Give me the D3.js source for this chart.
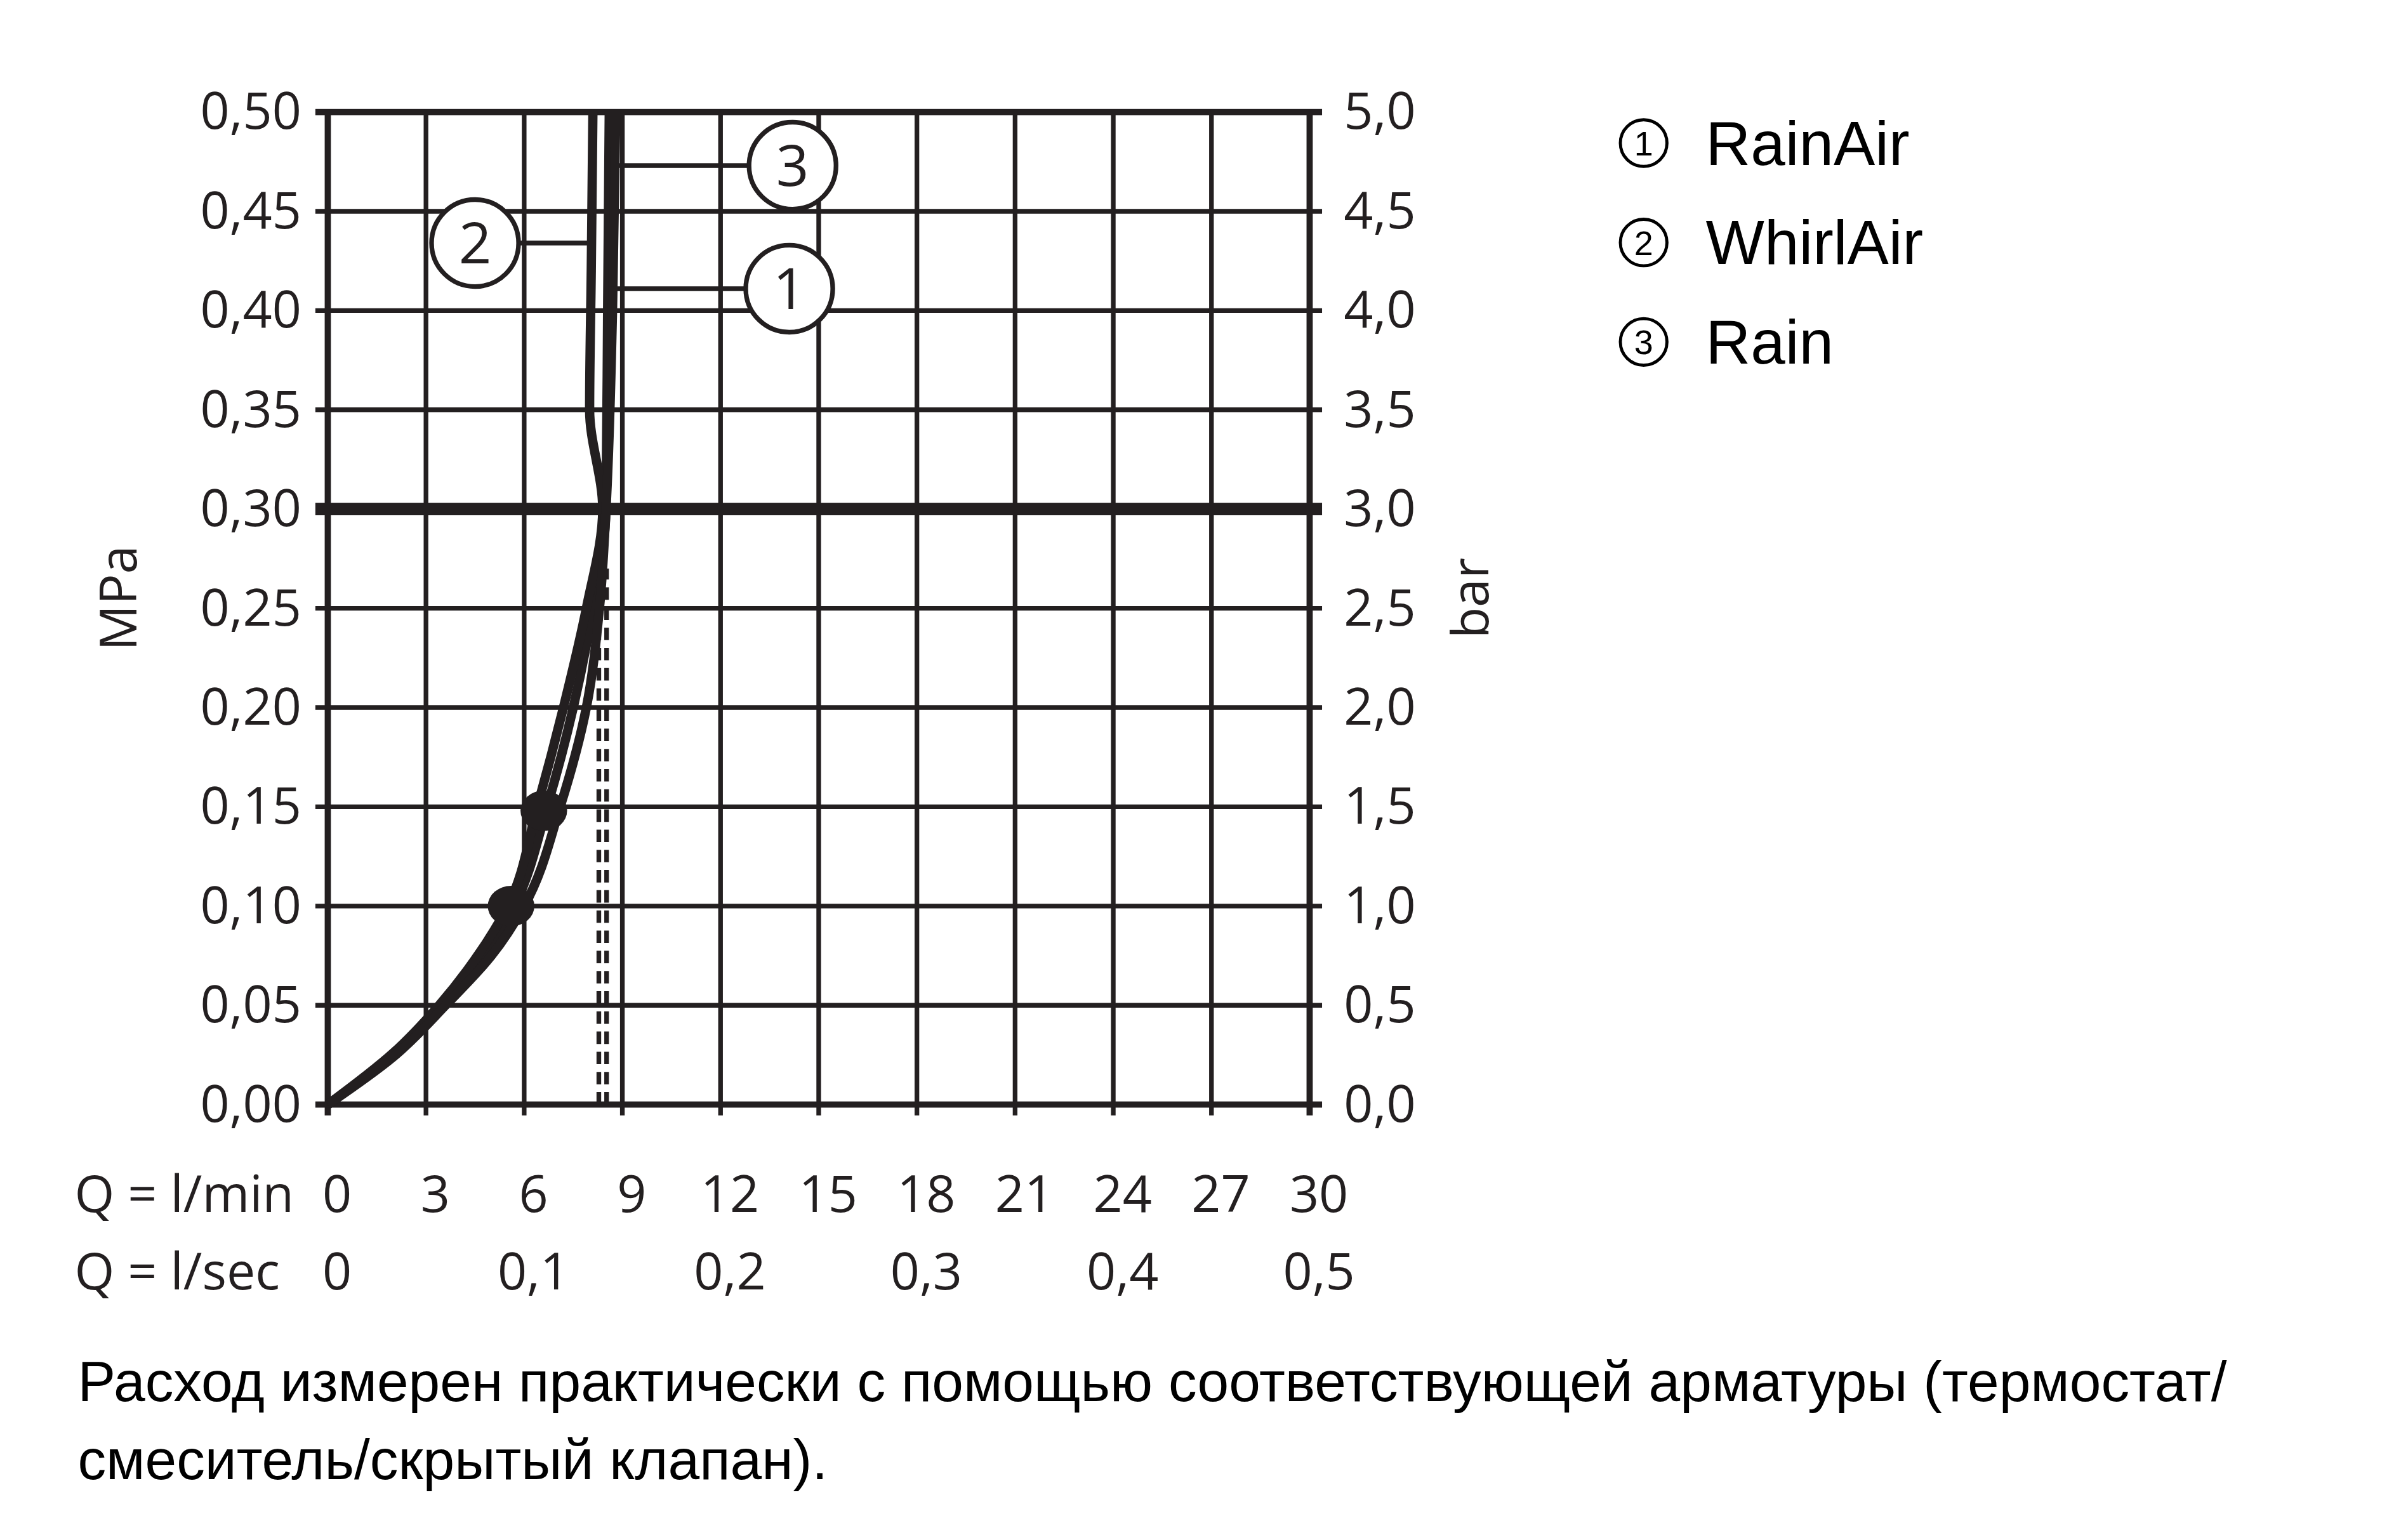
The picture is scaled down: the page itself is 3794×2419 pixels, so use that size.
<!DOCTYPE html>
<html><head><meta charset="utf-8">
<script src="https://cdn.jsdelivr.net/npm/d3@7"></script>
<style>body{margin:0;background:#fff}</style></head>
<body><div id="chart"></div>
<script>
const lpmTicks = [0, 3, 6, 9, 12, 15, 18, 21, 24, 27, 30];
const lpsTicks = ["0", "0,1", "0,2", "0,3", "0,4", "0,5"];
const mpaTicks = [0, 0.05, 0.1, 0.15, 0.2, 0.25, 0.3, 0.35, 0.4, 0.45, 0.5];
// curves: [flow l/min, pressure MPa]
const curve1 = [[0,0],[2,0.025],[3.5,0.05],[4.8,0.075],[5.7,0.1],[6.7,0.15],[7.5,0.2],[8.1,0.25],[8.5,0.3],[8.55,0.4],[8.6,0.5]];
const curve2 = [[0,0],[2,0.026],[3.4,0.05],[4.7,0.078],[5.5,0.1],[6.4,0.15],[7.2,0.2],[7.9,0.25],[8.4,0.3],[8.0,0.35],[8.05,0.42],[8.1,0.5]];
const curve3 = [[0,0],[2,0.024],[3.6,0.05],[5.0,0.075],[6.0,0.1],[7.1,0.15],[7.9,0.2],[8.3,0.25],[8.5,0.3],[8.7,0.4],[8.8,0.5]];
const dots = [[5.6, 0.1], [6.6, 0.148]];
const dashedQ = 8.4, dashedTop = 0.27;
const callouts = [{n:"3", y:0.473, x0:8.8, cx:14.2}, {n:"2", y:0.434, x0:8.0, cx:4.5}, {n:"1", y:0.411, x0:8.6, cx:14.1}];
const legendNums = ["1", "2", "3"];
const legendNames = ["RainAir", "WhirlAir", "Rain"];
const note = ["Расход измерен практически с помощью соответствующей арматуры (термостат/", "смеситель/скрытый клапан)."];

const L = 211, R = 843, T = 72, B = 711;
const svg = d3.select('#chart').append('svg')
  .attr('width', 3794).attr('height', 2419).attr('viewBox', '0 0 1550 988');
const x = d3.scaleLinear().domain([0, 30]).range([L, R]);
const y = d3.scaleLinear().domain([0, 0.5]).range([B, T]);
const ink = '#231f20', axisFont = "'Open Sans', sans-serif", fs = 33;

// grid
svg.append('g').selectAll('line').data(lpmTicks).join('line')
  .attr('x1', d => x(d)).attr('x2', d => x(d)).attr('y1', T).attr('y2', B + 7)
  .attr('stroke', ink).attr('stroke-width', d => (d === 0 || d === 30) ? 4 : 3);
svg.append('g').selectAll('line').data(mpaTicks).join('line')
  .attr('x1', L - 8).attr('x2', R + 8).attr('y1', d => y(d)).attr('y2', d => y(d))
  .attr('stroke', ink).attr('stroke-width', d => d === 0.3 ? 8 : (d === 0 || d === 0.5 ? 4 : 3));

// left/right labels
svg.append('g').selectAll('text').data(mpaTicks).join('text')
  .attr('x', 194).attr('y', d => y(d) + 11).attr('text-anchor', 'end')
  .attr('font-family', axisFont).attr('font-size', fs).attr('fill', ink)
  .text(d => d3.format('.2f')(d).replace('.', ','));
svg.append('g').selectAll('text').data(mpaTicks).join('text')
  .attr('x', 865).attr('y', d => y(d) + 11)
  .attr('font-family', axisFont).attr('font-size', fs).attr('fill', ink)
  .text(d => d3.format('.1f')(d * 10).replace('.', ','));
svg.append('text').attr('transform', 'translate(88,385) rotate(-90)').attr('text-anchor', 'middle')
  .attr('font-family', axisFont).attr('font-size', fs).attr('fill', ink).text('MPa');
svg.append('text').attr('transform', 'translate(958,385) rotate(-90)').attr('text-anchor', 'middle')
  .attr('font-family', axisFont).attr('font-size', fs).attr('fill', ink).text('bar');

// bottom labels
svg.append('g').selectAll('text').data(lpmTicks).join('text')
  .attr('x', d => x(d) + 6).attr('y', 780).attr('text-anchor', 'middle')
  .attr('font-family', axisFont).attr('font-size', fs).attr('fill', ink).text(d => d);
const xs = d3.scaleLinear().domain([0, 0.5]).range([L, R]);
svg.append('g').selectAll('text').data(lpsTicks).join('text')
  .attr('x', (d, i) => xs(i / 10) + 6).attr('y', 830).attr('text-anchor', 'middle')
  .attr('font-family', axisFont).attr('font-size', fs).attr('fill', ink).text(d => d);
svg.append('text').attr('x', 48).attr('y', 780).attr('font-family', axisFont).attr('font-size', fs).attr('fill', ink).text('Q = l/min');
svg.append('text').attr('x', 48).attr('y', 830).attr('font-family', axisFont).attr('font-size', fs).attr('fill', ink).text('Q = l/sec');

// dashed double line
[-2.5, 2.5].forEach(o => svg.append('line')
  .attr('x1', x(dashedQ) + o).attr('x2', x(dashedQ) + o).attr('y1', y(0)).attr('y2', y(dashedTop))
  .attr('stroke', ink).attr('stroke-width', 3).attr('stroke-dasharray', '8,5'));

// curves
const line = d3.line().x(d => x(d[0])).y(d => y(d[1])).curve(d3.curveMonotoneY);
[curve1, curve2, curve3].forEach(c => svg.append('path').attr('d', line(c))
  .attr('fill', 'none').attr('stroke', ink).attr('stroke-width', 6));
svg.selectAll('ellipse.dot').data(dots).join('ellipse').attr('class', 'dot')
  .attr('cx', d => x(d[0])).attr('cy', d => y(d[1])).attr('rx', 15).attr('ry', 13).attr('fill', ink);

// callouts
callouts.forEach(c => {
  const cx = x(c.cx), cy = y(c.y), left = c.cx < c.x0;
  svg.append('line').attr('x1', x(c.x0)).attr('x2', left ? cx + 28 : cx - 28)
    .attr('y1', cy).attr('y2', cy).attr('stroke', ink).attr('stroke-width', 3);
  svg.append('circle').attr('cx', cx).attr('cy', cy).attr('r', 28)
    .attr('fill', '#fff').attr('stroke', ink).attr('stroke-width', 3);
  svg.append('text').attr('x', cx).attr('y', cy + 13).attr('text-anchor', 'middle')
    .attr('font-family', axisFont).attr('font-size', 37).attr('fill', ink).text(c.n);
});

// legend
const lg = svg.append('g').selectAll('g').data(legendNames).join('g')
  .attr('transform', (d, i) => `translate(1058,${92 + i * 64})`);
lg.append('circle').attr('r', 15).attr('fill', 'none').attr('stroke', '#000').attr('stroke-width', 2);
lg.append('text').attr('y', 8).attr('text-anchor', 'middle').attr('font-family', "'Liberation Sans', Arial, sans-serif")
  .attr('font-size', 22).text((d, i) => legendNums[i]);
lg.append('text').attr('x', 40).attr('y', 14).attr('font-family', "'Liberation Sans', Arial, sans-serif")
  .attr('font-size', 40).attr('fill', '#000').text(d => d);

// note
svg.append('g').selectAll('text').data(note).join('text')
  .attr('x', 50).attr('y', (d, i) => 902 + i * 50)
  .attr('font-family', "'Liberation Sans', Arial, sans-serif").attr('font-size', 36.5).attr('fill', '#000').text(d => d);
</script></body></html>
